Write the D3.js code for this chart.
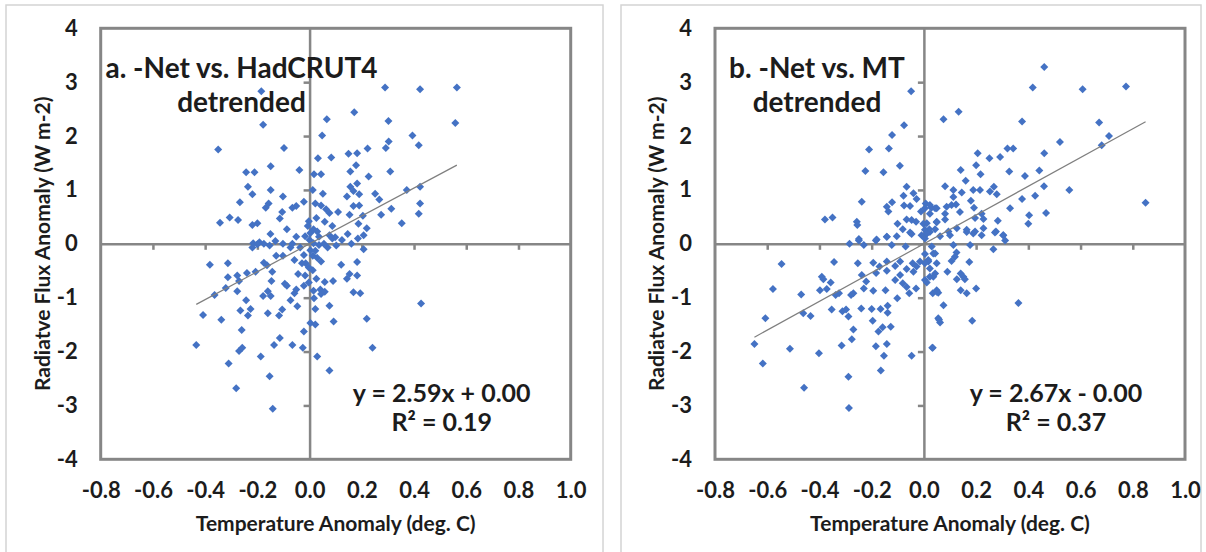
<!DOCTYPE html>
<html>
<head>
<meta charset="utf-8">
<script src="https://cdnjs.cloudflare.com/ajax/libs/d3/7.8.5/d3.min.js"></script>
<style>
    body { margin: 0; background: #fff; }
    text { font-family: Lato, "Open Sans", sans-serif; font-weight: bold; fill: #1c1c1c; }
</style>
</head>
<body>
<div id="chart"></div>
<script>
// axis ticks
const xTicks = [-0.8, -0.6, -0.4, -0.2, 0.0, 0.2, 0.4, 0.6, 0.8, 1.0];
const yTicks = [-4, -3, -2, -1, 0, 1, 2, 3, 4];

// panel texts
const titleA = ["a. -Net vs. HadCRUT4", "detrended"];
const titleB = ["b. -Net vs. MT", "detrended"];
const eqA = ["y = 2.59x + 0.00", "R² = 0.19"];
const eqB = ["y = 2.67x - 0.00", "R² = 0.37"];
const fitA = [2.59, 0.00];   // slope, intercept
const fitB = [2.67, 0.00];

// [temperature anomaly, radiative flux anomaly]
const pointsA = [[-0.185,2.83],[-0.178,2.21],[-0.35,1.75],[-0.098,1.78],[0.289,2.90],[0.423,2.87],[0.564,2.90],[0.558,2.24],[0.066,2.31],[0.171,2.44],[0.302,2.28],[0.303,1.90],[0.394,2.01],[0.418,1.83],[0.048,2.01],[0.292,1.78],[0.222,1.77],[0.149,1.67],[0.182,1.68],[0.032,1.59],[0.083,1.60],[0.178,1.46],[0.156,1.34],[0.309,1.34],[0.226,1.25],[0.017,1.29],[0.044,1.29],[-0.039,1.37],[-0.149,1.44],[-0.243,1.33],[-0.211,1.33],[-0.236,1.06],[-0.219,0.92],[-0.149,1.00],[-0.102,0.88],[-0.267,0.77],[-0.306,0.49],[-0.343,0.39],[-0.274,0.44],[-0.219,0.35],[-0.2,0.38],[-0.168,0.67],[-0.157,0.75],[-0.105,0.59],[-0.114,0.47],[-0.066,0.67],[-0.051,0.70],[-0.022,0.78],[0.012,1.0],[0.022,0.75],[0.051,0.93],[0.044,0.71],[0.063,0.64],[0.076,0.57],[0.109,0.59],[0.143,0.88],[0.156,1.06],[0.168,0.98],[0.182,1.12],[0.19,0.92],[0.168,0.70],[0.153,0.54],[0.19,0.71],[0.251,0.93],[0.267,0.82],[0.274,0.54],[0.313,0.65],[0.353,0.38],[0.372,1.0],[0.423,1.06],[0.423,0.75],[0.418,0.56],[0.204,0.52],[0.219,0.29],[0.187,0.37],[0.146,0.18],[0.185,0.10],[0.124,0.07],[0.098,0.12],[0.087,0.33],[0.058,0.41],[0.026,0.48],[-0.003,0.42],[0.003,0.20],[0.015,0.27],[-0.017,0.14],[-0.051,0.13],[-0.087,0.27],[-0.131,0.05],[-0.153,-0.03],[-0.175,0.0],[-0.192,0.03],[-0.216,0.01],[-0.150,0.18],[-0.102,0.0],[-0.066,0.0],[-0.036,-0.07],[0.015,0.01],[0.036,-0.02],[0.055,0.0],[0.076,0.16],[0.102,-0.03],[0.207,-0.10],[0.121,-0.39],[0.182,-0.34],[0.182,-0.59],[0.153,-0.56],[0.143,-0.65],[0.194,-0.92],[0.168,-0.90],[0.09,-0.69],[0.058,-0.71],[0.041,-0.85],[0.015,-0.87],[0.044,-0.93],[0.017,-1.01],[0.076,-1.15],[0.427,-1.11],[0.092,-1.44],[0.219,-1.39],[0.241,-1.93],[0.029,-2.09],[0.076,-2.35],[0.022,-1.50],[0.003,-1.47],[-0.022,-1.63],[0.022,-1.21],[-0.026,-1.93],[-0.066,-1.88],[-0.136,-1.88],[-0.114,-1.75],[-0.153,-2.46],[-0.141,-3.06],[-0.187,-2.09],[-0.281,-2.68],[-0.31,-2.22],[-0.27,-1.99],[-0.258,-1.93],[-0.434,-1.88],[-0.408,-1.32],[-0.338,-1.41],[-0.26,-1.60],[-0.265,-1.24],[-0.236,-1.33],[-0.226,-1.21],[-0.243,-1.05],[-0.277,-0.88],[-0.321,-0.82],[-0.364,-0.95],[-0.313,-0.62],[-0.277,-0.59],[-0.27,-0.69],[-0.313,-0.36],[-0.382,-0.39],[-0.207,-0.52],[-0.175,-0.35],[-0.163,-0.40],[-0.143,-0.52],[-0.146,-0.69],[-0.178,-0.97],[-0.16,-0.88],[-0.149,-0.97],[-0.16,-1.29],[-0.117,-1.33],[-0.105,-1.22],[-0.095,-0.74],[-0.087,-0.78],[-0.058,-0.92],[-0.051,-0.85],[-0.047,-1.16],[-0.073,-1.05],[-0.044,-0.56],[-0.029,-0.36],[-0.015,-0.36],[-0.003,-0.44],[-0.017,-0.59],[-0.058,-0.30],[-0.022,-0.21],[0.003,-0.12],[0.022,-0.13],[0.012,-0.22],[0.029,-0.26],[0.044,-0.33],[0.012,-0.49],[0.026,-0.65],[-0.003,-0.72],[-0.022,-0.78],[0.058,-0.89],[0.087,0.10],[0.16,0.0],[0.207,0.16],[0.069,-0.07],[0.0,0.07],[-0.007,0.33],[0.029,0.23],[0.036,0.13],[-0.128,-0.22],[-0.102,-0.22],[-0.073,-0.07],[-0.219,-0.07],[-0.2,-0.01],[-0.24,-0.54]];

const pointsB = [[-0.049,2.83],[-0.076,2.20],[-0.122,2.02],[-0.134,1.77],[-0.21,1.75],[-0.092,1.45],[-0.224,1.35],[-0.155,1.33],[-0.066,1.06],[-0.078,0.89],[-0.04,0.94],[-0.028,0.83],[-0.238,0.78],[-0.122,0.77],[-0.142,0.69],[-0.076,0.71],[-0.053,0.70],[-0.011,0.60],[0.007,0.75],[0.029,0.67],[0.049,0.66],[-0.136,0.60],[-0.379,0.45],[-0.35,0.49],[-0.257,0.41],[-0.255,0.35],[-0.101,0.37],[-0.066,0.45],[-0.047,0.44],[-0.03,0.41],[-0.081,0.27],[-0.053,0.21],[-0.002,0.37],[0.021,0.27],[0.049,0.40],[-0.142,0.13],[-0.181,0.08],[-0.249,0.09],[-0.009,0.16],
[-0.285,0.0],[-0.249,0.06],[-0.23,-0.02],[-0.184,0.06],[-0.142,0.13],[-0.104,0.14],[-0.047,0.18],[-0.123,-0.02],[-0.07,-0.05],[-0.545,-0.375],[-0.344,-0.34],[-0.253,-0.36],[-0.194,-0.35],[-0.142,-0.33],[-0.11,-0.41],[-0.091,-0.33],[-0.066,-0.47],[-0.043,-0.36],[-0.028,-0.42],[-0.015,-0.33],[-0.04,-0.52],[-0.391,-0.61],[-0.385,-0.66],[-0.357,-0.72],[-0.398,-0.86],[-0.372,-0.84],[-0.578,-0.84],[-0.47,-0.94],[-0.325,-0.92],[-0.338,-0.95],[-0.27,-0.92],[-0.279,-0.95],[-0.238,-0.58],[-0.221,-0.70],[-0.23,-0.83],[-0.183,-0.54],[-0.17,-0.42],[-0.142,-0.50],[-0.11,-0.67],[-0.091,-0.58],[-0.081,-0.73],[-0.066,-0.80],[-0.03,-0.83],[-0.194,-0.87],[-0.147,-0.86],[-0.102,-1.01],[-0.056,-0.92],[-0.462,-1.29],[-0.434,-1.34],[-0.607,-1.38],[-0.353,-1.22],[-0.312,-1.25],[-0.298,-1.22],[-0.289,-1.35],[-0.24,-1.20],[-0.2,-1.21],[-0.166,-1.21],[-0.139,-1.15],[-0.139,-1.28],[-0.196,-1.43],[-0.174,-1.63],[-0.158,-1.55],[-0.127,-1.54],[-0.27,-1.59],[-0.276,-1.77],[-0.315,-1.89],[-0.184,-1.90],[-0.142,-1.86],[-0.649,-1.86],[-0.513,-1.95],[-0.402,-2.03],[-0.617,-2.22],[-0.153,-2.08],[-0.047,-2.08],[-0.165,-2.35],[-0.289,-2.47],[-0.459,-2.67],[-0.287,-3.05],[0.034,-1.93],
[0.461,3.28],[0.417,2.90],[0.608,2.87],[0.774,2.92],[0.075,2.31],[0.133,2.45],[0.376,2.27],[0.671,2.25],[0.709,2.0],[0.681,1.83],[0.521,1.89],[0.32,1.77],[0.342,1.77],[0.461,1.68],[0.206,1.68],[0.2,1.46],[0.251,1.59],[0.292,1.61],[0.141,1.37],[0.217,1.29],[0.327,1.34],[0.387,1.26],[0.442,1.36],[0.16,1.17],[0.081,1.07],[0.113,1.0],[0.145,0.95],[0.189,1.0],[0.215,1.0],[0.253,0.97],[0.268,1.06],[0.279,0.92],[0.46,1.07],[0.557,1.0],[0.426,0.89],[0.376,0.83],[0.849,0.76],[0.18,0.80],[0.113,0.87],[0.106,0.72],[0.123,0.73],[0.087,0.69],[0.043,0.66],[0.023,0.72],[0.138,0.59],[0.192,0.67],[0.081,0.56],[0.049,0.41],[0.081,0.45],[0.33,0.66],[0.403,0.53],[0.468,0.57],[0.4,0.37],[0.283,0.43],[0.221,0.56],[0.228,0.46],[0.196,0.48],[0.011,0.38],[0.126,0.29],[0.164,0.26],[0.196,0.23],[0.228,0.29],[0.276,0.23],[0.304,0.16],[0.094,0.23],[0.043,0.27],[0.004,0.26],[0.004,0.66],[0.023,0.56],[0.011,0.19],
[0.023,0.22],[0.062,0.14],[0.1,0.16],[0.164,0.22],[0.189,0.19],[0.221,0.16],[0.272,0.21],[0.304,0.16],[0.311,0.06],[0.113,-0.02],[0.177,-0.02],[0.266,-0.10],[0.004,-0.19],[0.036,-0.18],[0.125,-0.16],[0.119,-0.24],[0.017,-0.33],[0.049,-0.36],[0.106,-0.32],[0.174,-0.34],[0.023,-0.46],[0.043,-0.55],[0.09,-0.52],[0.141,-0.55],[0.151,-0.61],[0.126,-0.66],[0.157,-0.66],[0.004,-0.67],[0.036,-0.61],[0.011,-0.72],[0.2,-0.83],[0.141,-0.86],[0.164,-0.92],[0.049,-0.86],[0.055,-0.91],[0.362,-1.10],[0.075,-1.14],[0.055,-1.38],[0.062,-1.46],[0.185,-1.43],[0.032,-1.93],
[0.03,-0.05],[0.043,-0.18],[0.017,-0.30],[0.023,-0.61],[0.034,-0.92],[0.049,-0.89],[0.004,-0.36],[0.058,-1.41],[0.004,0.10],[0.011,0.19]];

const svg = d3.select("#chart")
    .append("svg")
    .attr("width", 1206)
    .attr("height", 552);

// light frames around both pictures
svg.append("rect").attr("x", 6).attr("y", 5).attr("width", 597).attr("height", 560)
    .attr("fill", "none").attr("stroke", "#d4d4d4").attr("stroke-width", 1.5);
svg.append("rect").attr("x", 621).attr("y", 5).attr("width", 580).attr("height", 560)
    .attr("fill", "none").attr("stroke", "#d4d4d4").attr("stroke-width", 1.5);

function drawPanel(left, points, fit, title, titleDx, eq) {
    const top = 28.3, w = 470, h = 431;
    const grey = "#868686";

    const x = d3.scaleLinear().domain([-0.8, 1.0]).range([left, left + w]);
    const y = d3.scaleLinear().domain([-4, 4]).range([top + h, top]);

    const g = svg.append("g");

    // tick labels (left / bottom of the frame)
    g.append("g")
        .attr("transform", "translate(" + left + ",0)")
        .call(d3.axisLeft(y).tickValues(yTicks).tickSize(0).tickPadding(23).tickFormat(d => String(d)))
        .call(a => a.select(".domain").remove())
        .selectAll("text").style("font-size", "22px").attr("fill", "#1c1c1c");
    g.append("g")
        .attr("transform", "translate(0," + (top + h) + ")")
        .call(d3.axisBottom(x).tickValues(xTicks).tickSize(0).tickPadding(23).tickFormat(d => d.toFixed(1)))
        .call(a => a.select(".domain").remove())
        .selectAll("text").style("font-size", "22px").attr("fill", "#1c1c1c");

    // zero lines with small ticks
    g.append("g")
        .attr("transform", "translate(0," + y(0) + ")")
        .call(d3.axisBottom(x).tickValues(xTicks.slice(1, -1)).tickSize(6).tickSizeOuter(0).tickFormat(""))
        .call(a => a.selectAll("line, path").attr("stroke", grey).attr("stroke-width", 2.5));
    g.append("g")
        .attr("transform", "translate(" + x(0) + ",0)")
        .call(d3.axisLeft(y).tickValues(yTicks.slice(1, -1)).tickSize(6).tickSizeOuter(0).tickFormat(""))
        .call(a => a.selectAll("line, path").attr("stroke", grey).attr("stroke-width", 2.5));

    // plot frame
    g.append("rect")
        .attr("x", left).attr("y", top).attr("width", w).attr("height", h)
        .attr("fill", "none").attr("stroke", grey).attr("stroke-width", 3);

    // points
    g.append("g").selectAll("path")
        .data(points)
        .enter()
        .append("path")
        .attr("d", d3.symbol().type(d3.symbolSquare).size(32))
        .attr("transform", d => "translate(" + x(d[0]) + "," + y(d[1]) + ") rotate(45)")
        .attr("fill", "#4472c4");

    // linear trend line over the data range
    const ext = d3.extent(points, d => d[0]);
    g.append("path")
        .datum(ext)
        .attr("d", d3.line().x(d => x(d)).y(d => y(fit[0] * d + fit[1])))
        .attr("stroke", "#7f7f7f").attr("stroke-width", 1.2).attr("fill", "none");

    // titles
    g.selectAll(".ttl").data(title).enter().append("text")
        .attr("x", left + titleDx).attr("y", (d, i) => 78 + i * 34)
        .attr("text-anchor", "middle").style("font-size", "28px").text(d => d);

    g.selectAll(".eq").data(eq).enter().append("text")
        .attr("x", left + 341).attr("y", (d, i) => 402 + i * 29)
        .attr("text-anchor", "middle").style("font-size", "25px").text(d => d);

    // axis titles
    g.append("text")
        .attr("x", left + w / 2).attr("y", 531)
        .attr("text-anchor", "middle").style("font-size", "21px")
        .text("Temperature Anomaly (deg. C)");
    g.append("text")
        .attr("transform", "translate(" + (left - 51) + "," + (top + h / 2) + ") rotate(-90)")
        .attr("text-anchor", "middle").style("font-size", "21px")
        .text("Radiatve Flux Anomaly (W m-2)");
}

drawPanel(100.7, pointsA, fitA, titleA, 140.8, eqA);
drawPanel(715, pointsB, fitB, titleB, 102, eqB);
</script>
</body>
</html>
